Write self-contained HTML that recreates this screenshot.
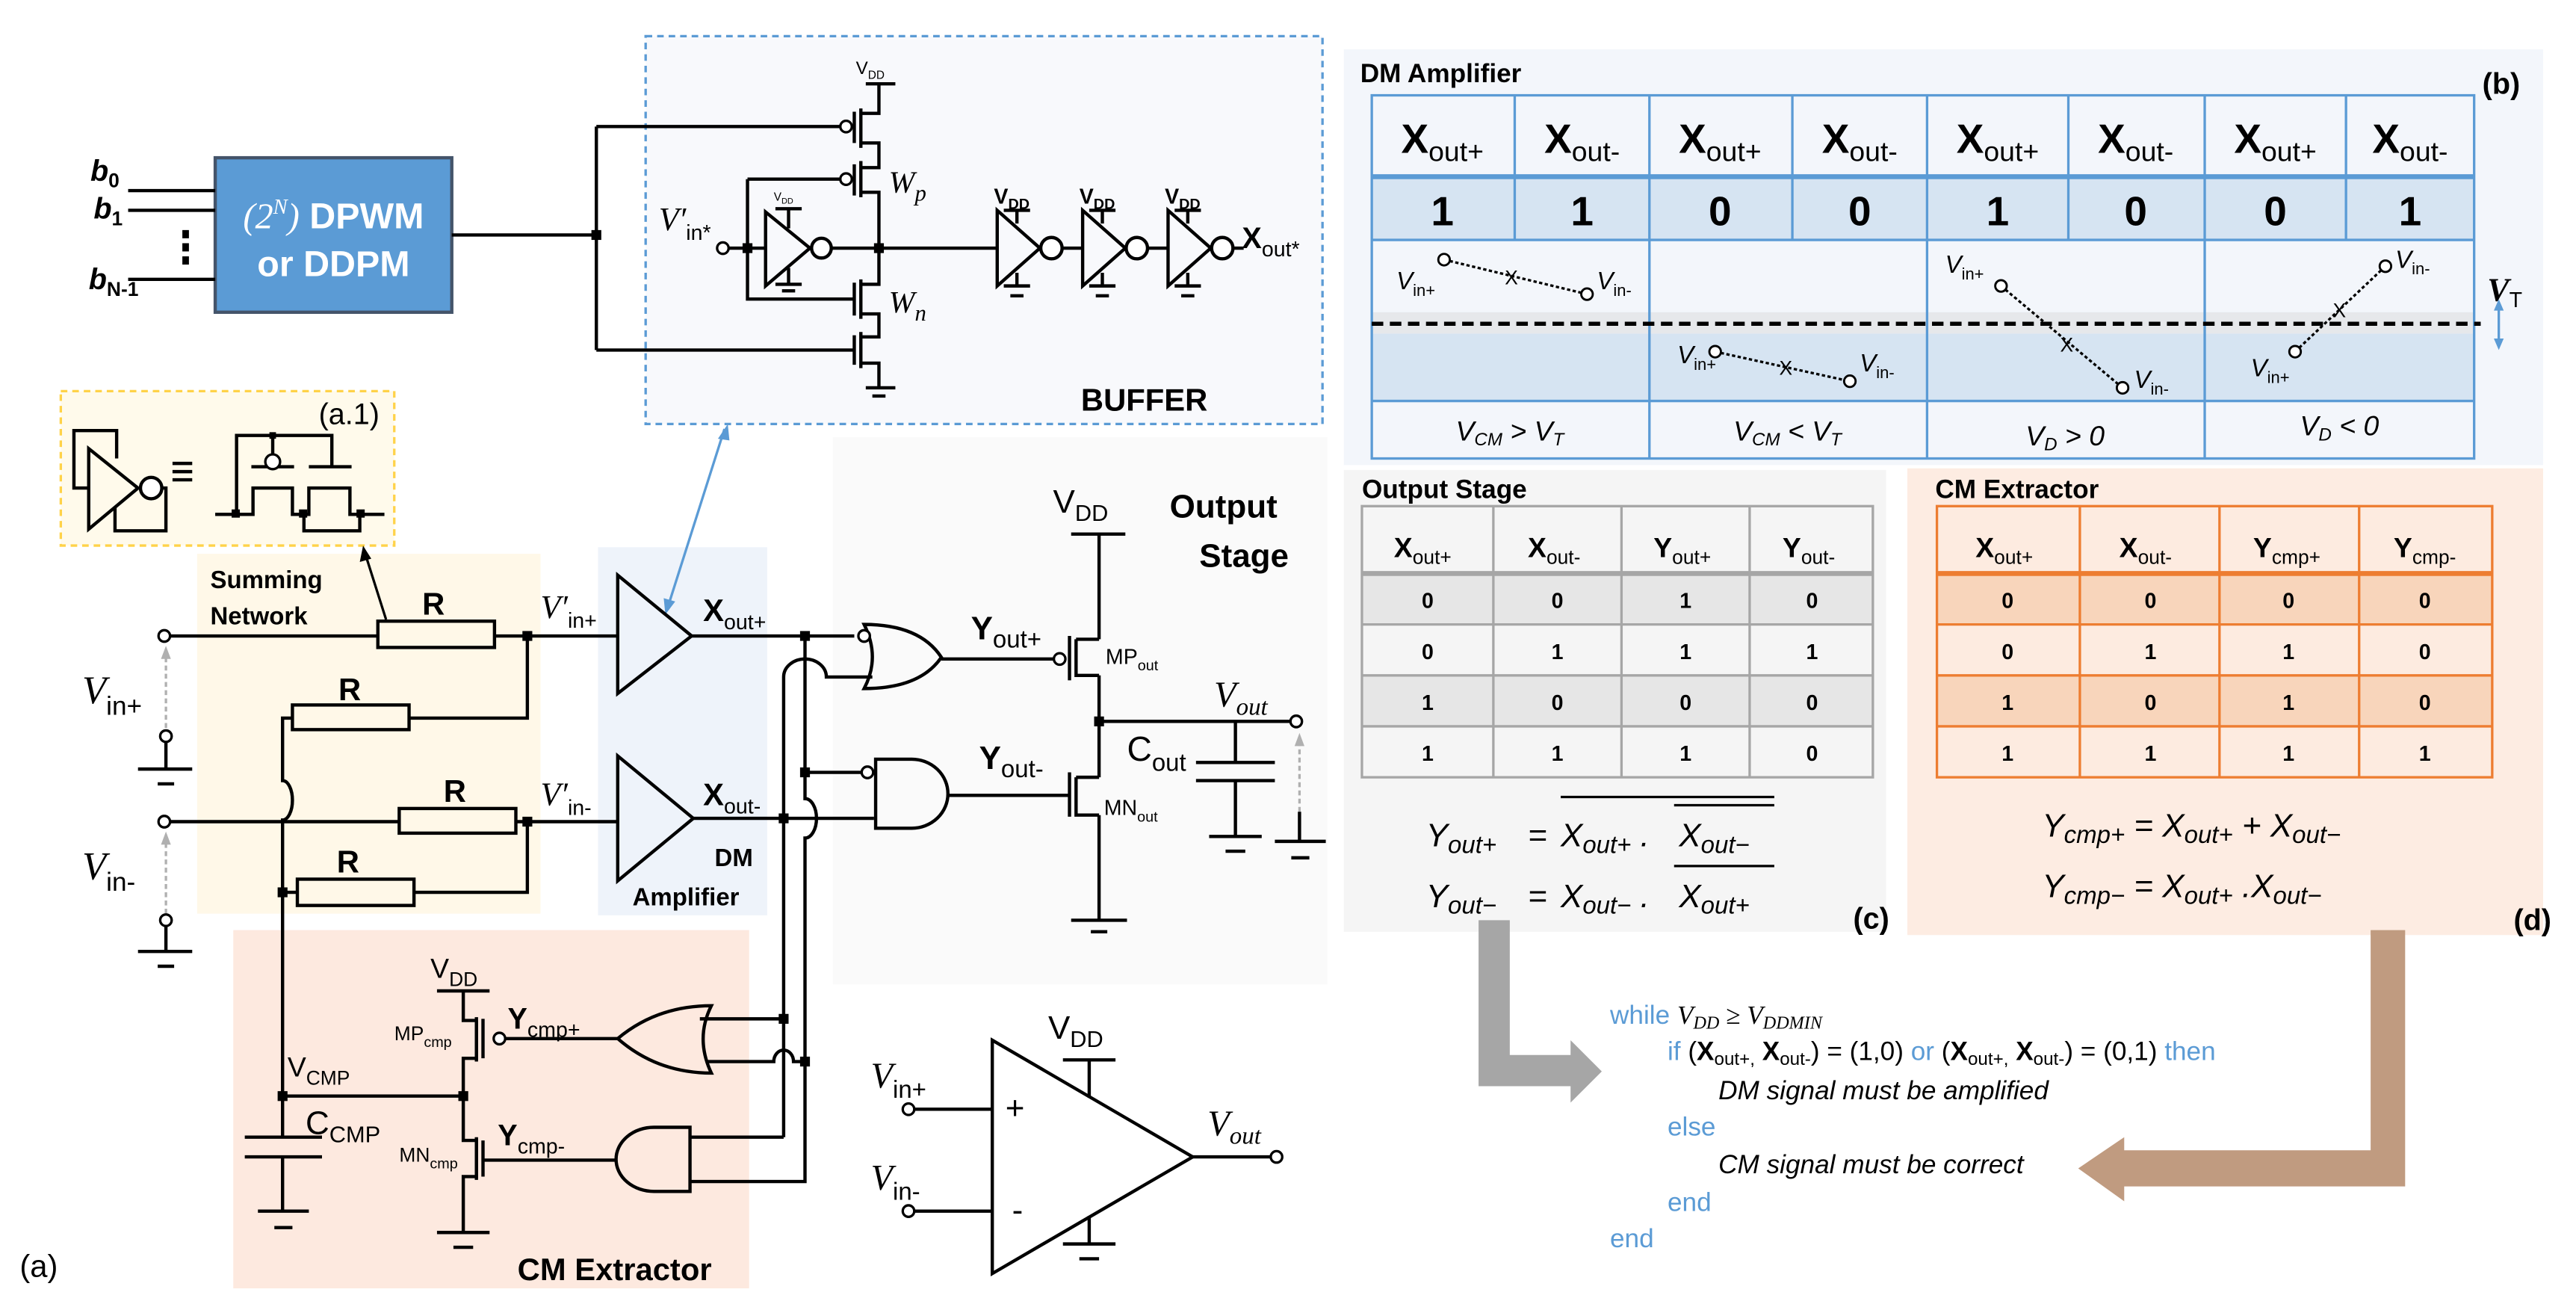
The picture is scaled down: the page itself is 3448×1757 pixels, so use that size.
<!DOCTYPE html>
<html><head><meta charset="utf-8"><style>
html,body{margin:0;padding:0;background:#fff}
svg{display:block}
text{font-family:"Liberation Sans",sans-serif}
.b{font-weight:bold}
.s{font-family:"Liberation Serif",serif;font-style:italic}
.w{fill:none;stroke:#000;stroke-width:2}
.t{fill:none;stroke:#000;stroke-width:3}
</style></head><body>
<svg width="3448" height="1757" viewBox="0 0 1568 799" xmlns="http://www.w3.org/2000/svg">
<!-- backgrounds -->
<rect x="393" y="22" width="412" height="236" fill="#f8f9fc" stroke="#5b9bd5" stroke-width="1.5" stroke-dasharray="4,3"/>
<rect x="37" y="238" width="203" height="94" fill="#fffaeb" stroke="#ffc000" stroke-opacity="0.7" stroke-width="1.5" stroke-dasharray="4,3"/>
<rect x="120" y="337" width="209" height="219" fill="#fff8e8"/>
<rect x="364" y="333" width="103" height="224" fill="#eef3fa"/>
<rect x="507" y="266" width="301" height="333" fill="#fafafa"/>
<rect x="142" y="566" width="314" height="218" fill="#fde9df"/>
<rect x="818" y="30" width="730" height="253" fill="#f3f6fb"/>
<rect x="818" y="286" width="330" height="281" fill="#f5f5f5"/>
<rect x="1161" y="285" width="387" height="284" fill="#fdece2"/>

<!-- DPWM -->
<rect x="131" y="96" width="144" height="94" fill="#5b9bd5" stroke="#44546a" stroke-width="2"/>
<text x="203" y="139" text-anchor="middle" fill="#fff" font-size="22" class="b"><tspan class="s" style="font-weight:normal">(2</tspan><tspan class="s" dy="-9" font-size="13" style="font-weight:normal">N</tspan><tspan class="s" dy="9" style="font-weight:normal">)</tspan> DPWM</text>
<text x="203" y="168" text-anchor="middle" fill="#fff" font-size="22" class="b">or DDPM</text>
<text x="55" y="110" font-size="18" class="b" font-style="italic">b<tspan dy="4" font-size="12" font-style="normal">0</tspan></text>
<text x="57" y="133" font-size="18" class="b" font-style="italic">b<tspan dy="4" font-size="12" font-style="normal">1</tspan></text>
<text x="54" y="176" font-size="18" class="b" font-style="italic">b<tspan dy="4" font-size="12" font-style="normal">N-1</tspan></text>
<path class="w" d="M78 116H131M78 128H131M78 170H131"/>
<rect x="111" y="140" width="4" height="5"/><rect x="111" y="148" width="4" height="5"/><rect x="111" y="156" width="4" height="5"/>
<path class="w" d="M275 143H363M363 77V213M363 77H511M363 213H520"/>
<rect x="360" y="140" width="6" height="6"/>

<!-- Buffer transistor stack -->
<text x="521" y="45" font-size="11">V<tspan dy="3" font-size="7">DD</tspan></text>
<path class="w" d="M527 51H545M535 51V69H524M524 87H535V102H524M524 117H535V173H524M524 191H535V205H524M524 221H535V236"/>
<path class="w" d="M524 66V90M524 98V120M524 170V194M524 202V224M520 68V87M520 100V119M520 172V192M520 204V222"/>
<path class="w" d="M527 236H545M531 241H539"/>
<circle cx="515" cy="77" r="3.5" fill="#fff" stroke="#000" stroke-width="1.5"/>
<circle cx="515" cy="109" r="3.5" fill="#fff" stroke="#000" stroke-width="1.5"/>
<rect x="532" y="148" width="6" height="6"/>
<text x="541" y="117" class="s" font-size="19">W<tspan dy="5" font-size="14">p</tspan></text>
<text x="541" y="190" class="s" font-size="19">W<tspan dy="5" font-size="14">n</tspan></text>
<!-- small inverter -->
<path class="w" d="M455 109H511M455 109V182H520M444 151H466M506 151H535"/>
<rect x="452" y="148" width="6" height="6"/>
<circle cx="440" cy="151" r="3.5" fill="#fff" stroke="#000" stroke-width="1.5"/>
<path class="w" d="M466 129L493 151L466 174Z"/>
<circle cx="500" cy="151" r="6" fill="#fff" stroke="#000" stroke-width="2"/>
<path class="w" d="M472 127H488M480 127V139M480 163V173M472 173H488M476 177H484"/>
<text x="471" y="122" font-size="7">V<tspan dy="2" font-size="5">DD</tspan></text>
<text x="401" y="140" class="s" font-size="20">V′<tspan dy="6" font-size="13" font-family="Liberation Sans" font-style="normal">in*</tspan></text>
<!-- three inverters -->
<path class="w" d="M535 151H607"/>
<g id="inv"><path class="w" d="M607 128L633 151L607 174Z"/><circle cx="640" cy="151" r="6.5" fill="#fff" stroke="#000" stroke-width="2"/><path class="w" d="M611 128H627M619 128V136M619 166V174M611 174H627M615 180H623"/></g>
<use href="#inv" x="52"/><use href="#inv" x="104"/>
<path class="w" d="M646 151H659M698 151H711M750 151H757"/>
<text x="605" y="124" class="b" font-size="13">V<tspan dy="3" font-size="9">DD</tspan></text>
<text x="657" y="124" class="b" font-size="13">V<tspan dy="3" font-size="9">DD</tspan></text>
<text x="709" y="124" class="b" font-size="13">V<tspan dy="3" font-size="9">DD</tspan></text>
<text x="756" y="151" class="b" font-size="18">X<tspan dy="5" font-size="13" style="font-weight:normal">out*</tspan></text>
<text x="658" y="250" class="b" font-size="19">BUFFER</text>

<!-- a.1 -->
<path class="w" d="M54 297H45V262H71V279"/>
<path class="w" d="M54 273L84 297L54 322Z"/>
<circle cx="92" cy="297" r="6.5" fill="#fff" stroke="#000" stroke-width="2"/>
<path class="w" d="M99 297H101V323H70V309"/>
<path class="w" d="M105 282H117M105 287H117M105 292H117" stroke-width="2"/>
<path class="w" d="M144 313V265H202V284M166 265V276M153 284H179M188 284H214M131 313H154V297H178V313H188V297H213V313H234M185 313V323H219V313"/>
<circle cx="166" cy="281" r="4.5" fill="#fff" stroke="#000" stroke-width="1.5"/>
<rect x="141" y="310" width="5" height="5"/><rect x="182" y="310" width="5" height="5"/><rect x="217" y="310" width="5" height="5"/><rect x="164" y="263" width="4" height="4"/>
<text x="194" y="258" font-size="18">(a.1)</text>
<path d="M235 377L222 336" stroke="#000" stroke-width="1.5"/><path d="M221 332L219 342L226 340Z"/>
<path d="M406 371L441 261" stroke="#5b9bd5" stroke-width="1.5"/><path d="M443 258L437 267L444 268Z" fill="#5b9bd5"/><path d="M405 374L404 364L411 366Z" fill="#5b9bd5"/>

<!-- Summing network -->
<text x="128" y="358" class="b" font-size="15">Summing</text>
<text x="128" y="380" class="b" font-size="15">Network</text>
<circle cx="100" cy="387" r="3.5" fill="#fff" stroke="#000" stroke-width="1.5"/>
<path class="w" d="M104 387H230M301 387H376"/>
<rect x="230" y="378" width="71" height="16" fill="none" stroke="#000" stroke-width="2"/>
<text x="257" y="374" class="b" font-size="19">R</text>
<rect x="318" y="384" width="6" height="6"/>
<text x="329" y="376" class="s" font-size="20">V′<tspan dy="6" font-size="13" font-family="Liberation Sans" font-style="normal">in+</tspan></text>
<path class="w" d="M321 387V437H249"/>
<rect x="178" y="429" width="71" height="15" fill="none" stroke="#000" stroke-width="2"/>
<text x="206" y="426" class="b" font-size="19">R</text>
<path class="w" d="M178 437H172V475A6 12 0 0 1 172 499V692"/>
<circle cx="100" cy="500" r="3.5" fill="#fff" stroke="#000" stroke-width="1.5"/>
<path class="w" d="M104 500H243M314 500H376"/>
<rect x="243" y="492" width="71" height="15" fill="none" stroke="#000" stroke-width="2"/>
<text x="270" y="488" class="b" font-size="19">R</text>
<rect x="318" y="497" width="6" height="6"/>
<text x="329" y="490" class="s" font-size="20">V′<tspan dy="6" font-size="13" font-family="Liberation Sans" font-style="normal">in-</tspan></text>
<path class="w" d="M321 500V543H252"/>
<rect x="181" y="535" width="71" height="16" fill="none" stroke="#000" stroke-width="2"/>
<text x="205" y="531" class="b" font-size="19">R</text>
<path class="w" d="M172 543H181"/><rect x="169" y="540" width="6" height="6"/>
<!-- inputs ground -->
<text x="50" y="428" class="s" font-size="24">V<tspan dy="7" font-size="16" font-family="Liberation Sans" font-style="normal">in+</tspan></text>
<text x="50" y="535" class="s" font-size="24">V<tspan dy="7" font-size="16" font-family="Liberation Sans" font-style="normal">in-</tspan></text>
<path d="M101 443V399M101 556V512" stroke="#b0b0b0" stroke-width="1.5" stroke-dasharray="3,2"/>
<path d="M101 393L98 401H104Z M101 506L98 514H104Z" fill="#b0b0b0"/>
<circle cx="101" cy="448" r="3.5" fill="#fff" stroke="#000" stroke-width="1.5"/>
<circle cx="101" cy="560" r="3.5" fill="#fff" stroke="#000" stroke-width="1.5"/>
<path class="w" d="M101 452V468M84 468H117M96 477H106M101 564V579M84 579H117M96 588H106"/>

<!-- DM amplifiers -->
<path class="w" d="M376 350L421 387L376 422Z"/>
<path class="w" d="M376 460L422 498L376 536Z"/>
<text x="428" y="378" class="b" font-size="19">X<tspan dy="5" font-size="13" style="font-weight:normal">out+</tspan></text>
<text x="428" y="490" class="b" font-size="19">X<tspan dy="5" font-size="13" style="font-weight:normal">out-</tspan></text>
<text x="435" y="527" class="b" font-size="15">DM</text>
<text x="385" y="551" class="b" font-size="15">Amplifier</text>
<!-- wiring -->
<path class="w" d="M421 387H520M422 498H532"/>
<rect x="487" y="384" width="6" height="6"/><rect x="474" y="495" width="6" height="6"/>
<path class="w" d="M490 387V486A7 12 0 0 1 490 510V719H420M490 470H524"/>
<rect x="487" y="467" width="6" height="6"/>
<path class="w" d="M477 692V412A13 11 0 0 1 503 412H531"/>
<path class="w" d="M477 620H426M420 692H477"/>
<rect x="474" y="617" width="6" height="6"/>
<path class="w" d="M430 646H471A6 7 0 0 1 483 646H490"/>
<rect x="487" y="643" width="6" height="6"/>

<!-- output stage gates -->
<path class="w" d="M526 380Q560 380 573 400Q560 419 526 419Q536 400 526 380Z"/>
<circle cx="526" cy="387" r="3.5" fill="#fff" stroke="#000" stroke-width="1.5"/>
<path class="w" d="M533 462H555A22 21 0 0 1 555 504H533Z"/>
<circle cx="528" cy="470" r="3.5" fill="#fff" stroke="#000" stroke-width="1.5"/>
<path class="w" d="M573 401H641M577 484H651"/>
<circle cx="645" cy="401" r="3.5" fill="#fff" stroke="#000" stroke-width="1.5"/>
<path class="w" d="M651 387V414M655 389V411H669M655 389H669M669 325V389M669 411V473M652 325H685"/>
<path class="w" d="M651 470V497M655 473V496H669M655 473H669M669 496V560M652 560H686M664 567H674"/>
<rect x="666" y="436" width="6" height="6"/>
<path class="w" d="M669 439H785M752 439V464M728 464H776M728 475H776M752 475V509M736 509H768M746 518H758"/>
<circle cx="789" cy="439" r="3.5" fill="#fff" stroke="#000" stroke-width="1.5"/>
<path d="M791 494V451" stroke="#b0b0b0" stroke-width="1.5" stroke-dasharray="3,2"/><path d="M791 446L788 454H794Z" fill="#b0b0b0"/>
<path class="w" d="M791 494V512M776 512H807M786 522H797"/>
<text x="641" y="312" font-size="20">V<tspan dy="5" font-size="14">DD</tspan></text>
<text x="712" y="315" class="b" font-size="20">Output</text>
<text x="730" y="345" class="b" font-size="20">Stage</text>
<text x="591" y="389" class="b" font-size="20">Y<tspan dy="5" font-size="15" style="font-weight:normal">out+</tspan></text>
<text x="596" y="468" class="b" font-size="20">Y<tspan dy="5" font-size="15" style="font-weight:normal">out-</tspan></text>
<text x="673" y="404" font-size="13">MP<tspan dy="4" font-size="9">out</tspan></text>
<text x="672" y="496" font-size="13">MN<tspan dy="4" font-size="9">out</tspan></text>
<text x="739" y="430" class="s" font-size="22">V<tspan dy="5" font-size="15">out</tspan></text>
<text x="686" y="463" font-size="21">C<tspan dy="6" font-size="15">out</tspan></text>

<!-- CM extractor -->
<rect x="169" y="664" width="6" height="6"/><rect x="279" y="664" width="6" height="6"/>
<path class="w" d="M172 667H282M149 692H196M149 704H196M172 704V737M157 737H188M167 747H178"/>
<path class="w" d="M282 603V621H290M290 621V644H282V694H290V716H282V750M266 603H298M266 750H298M276 759H288"/>
<path class="w" d="M290 619V646M290 692V718M294 620V644M294 694V716"/>
<circle cx="304" cy="632" r="3.5" fill="#fff" stroke="#000" stroke-width="1.5"/>
<path class="w" d="M308 632H376M294 706H375"/>
<path class="w" d="M433 612Q400 612 376 632Q400 653 433 653Q423 632 433 612Z"/>
<path class="w" d="M420 686H398A23 19.5 0 0 0 398 725H420Z"/>
<text x="262" y="595" font-size="17">V<tspan dy="5" font-size="12">DD</tspan></text>
<text x="309" y="626" class="b" font-size="18">Y<tspan dy="5" font-size="13" style="font-weight:normal">cmp+</tspan></text>
<text x="303" y="697" class="b" font-size="18">Y<tspan dy="5" font-size="13" style="font-weight:normal">cmp-</tspan></text>
<text x="240" y="633" font-size="12">MP<tspan dy="4" font-size="9">cmp</tspan></text>
<text x="243" y="707" font-size="12">MN<tspan dy="4" font-size="9">cmp</tspan></text>
<text x="175" y="655" font-size="17">V<tspan dy="5" font-size="12">CMP</tspan></text>
<text x="186" y="690" font-size="20">C<tspan dy="5" font-size="14">CMP</tspan></text>
<text x="315" y="779" class="b" font-size="19">CM Extractor</text>
<text x="12" y="777" font-size="19">(a)</text>

<!-- opamp -->
<path class="w" d="M604 633L726 704L604 775Z"/>
<circle cx="553" cy="675" r="3.5" fill="#fff" stroke="#000" stroke-width="1.5"/>
<circle cx="553" cy="737" r="3.5" fill="#fff" stroke="#000" stroke-width="1.5"/>
<circle cx="777" cy="704" r="3.5" fill="#fff" stroke="#000" stroke-width="1.5"/>
<path class="w" d="M557 675H604M557 737H604M726 704H773M663 645V668M647 645H679M663 740V757M647 757H679M657 766H669"/>
<text x="612" y="681" font-size="20">+</text><text x="616" y="743" font-size="20">-</text>
<text x="638" y="632" font-size="20">V<tspan dy="5" font-size="14">DD</tspan></text>
<text x="530" y="662" class="s" font-size="22">V<tspan dy="6" font-size="15" font-family="Liberation Sans" font-style="normal">in+</tspan></text>
<text x="530" y="724" class="s" font-size="22">V<tspan dy="6" font-size="15" font-family="Liberation Sans" font-style="normal">in-</tspan></text>
<text x="735" y="691" class="s" font-size="22">V<tspan dy="5" font-size="15">out</tspan></text>

<!-- (b) DM table -->
<text x="828" y="50" class="b" font-size="16">DM Amplifier</text>
<text x="1511" y="57" class="b" font-size="18">(b)</text>
<rect x="835" y="107" width="671" height="39" fill="#d6e4f2"/>
<rect x="835" y="203" width="671" height="41" fill="#d6e4f2"/>
<rect x="835" y="190" width="671" height="13" fill="#e6e8eb"/>
<g fill="none" stroke="#5b9bd5" stroke-width="1.5">
<rect x="835" y="58" width="671" height="221"/>
<path d="M835 146H1506M835 244H1506M922 58V146M1091 58V146M1259 58V146M1428 58V146M1004 58V279M1173 58V279M1342 58V279"/>
<path d="M835 107.5H1506" stroke-width="3"/>
</g>
<g class="b" font-size="25" text-anchor="middle">
<text x="878" y="93">X<tspan dy="5" font-size="17" style="font-weight:normal">out+</tspan></text>
<text x="963" y="93">X<tspan dy="5" font-size="17" style="font-weight:normal">out-</tspan></text>
<text x="1047" y="93">X<tspan dy="5" font-size="17" style="font-weight:normal">out+</tspan></text>
<text x="1132" y="93">X<tspan dy="5" font-size="17" style="font-weight:normal">out-</tspan></text>
<text x="1216" y="93">X<tspan dy="5" font-size="17" style="font-weight:normal">out+</tspan></text>
<text x="1300" y="93">X<tspan dy="5" font-size="17" style="font-weight:normal">out-</tspan></text>
<text x="1385" y="93">X<tspan dy="5" font-size="17" style="font-weight:normal">out+</tspan></text>
<text x="1467" y="93">X<tspan dy="5" font-size="17" style="font-weight:normal">out-</tspan></text>
<text x="878" y="137">1</text><text x="963" y="137">1</text><text x="1047" y="137">0</text><text x="1132" y="137">0</text>
<text x="1216" y="137">1</text><text x="1300" y="137">0</text><text x="1385" y="137">0</text><text x="1467" y="137">1</text>
</g>
<path d="M835 197H1510" stroke="#000" stroke-width="2.5" stroke-dasharray="7,4"/>
<path d="M1521 186V209" stroke="#5b9bd5" stroke-width="1.5"/><path d="M1521 182L1518 189H1524ZM1521 213L1518 206H1524Z" fill="#5b9bd5"/>
<text x="1514" y="183" class="s b" font-size="20">V<tspan dy="4" font-size="13" font-family="Liberation Sans" font-style="normal" style="font-weight:normal">T</tspan></text>
<g stroke="#000" stroke-width="1.5" stroke-dasharray="2,1.5" fill="none">
<path d="M879 158L966 179M1044 214L1126 232M1218 174L1292 236M1397 214L1452 162"/></g>
<g fill="#fff" stroke="#000" stroke-width="1.3">
<circle cx="879" cy="158" r="3.5"/><circle cx="966" cy="179" r="3.5"/><circle cx="1044" cy="214" r="3.5"/><circle cx="1126" cy="232" r="3.5"/>
<circle cx="1218" cy="174" r="3.5"/><circle cx="1292" cy="236" r="3.5"/><circle cx="1397" cy="214" r="3.5"/><circle cx="1452" cy="162" r="3.5"/></g>
<g font-size="12" text-anchor="middle"><text x="920" y="173">X</text><text x="1087" y="228">X</text><text x="1258" y="214">X</text><text x="1424" y="193">X</text></g>
<g class="s" font-size="15">
<text x="850" y="176">V<tspan dy="4" font-size="10" font-family="Liberation Sans" font-style="normal">in+</tspan></text>
<text x="972" y="176">V<tspan dy="4" font-size="10" font-family="Liberation Sans" font-style="normal">in-</tspan></text>
<text x="1021" y="221">V<tspan dy="4" font-size="10" font-family="Liberation Sans" font-style="normal">in+</tspan></text>
<text x="1132" y="226">V<tspan dy="4" font-size="10" font-family="Liberation Sans" font-style="normal">in-</tspan></text>
<text x="1184" y="166">V<tspan dy="4" font-size="10" font-family="Liberation Sans" font-style="normal">in+</tspan></text>
<text x="1299" y="236">V<tspan dy="4" font-size="10" font-family="Liberation Sans" font-style="normal">in-</tspan></text>
<text x="1370" y="229">V<tspan dy="4" font-size="10" font-family="Liberation Sans" font-style="normal">in+</tspan></text>
<text x="1458" y="163">V<tspan dy="4" font-size="10" font-family="Liberation Sans" font-style="normal">in-</tspan></text>
</g>
<g class="s" font-size="17" text-anchor="middle">
<text x="919" y="268">V<tspan dy="3" font-size="11">CM</tspan><tspan dy="-3"> &gt; V</tspan><tspan dy="3" font-size="11">T</tspan></text>
<text x="1088" y="268">V<tspan dy="3" font-size="11">CM</tspan><tspan dy="-3"> &lt; V</tspan><tspan dy="3" font-size="11">T</tspan></text>
<text x="1257" y="271">V<tspan dy="3" font-size="11">D</tspan><tspan dy="-3"> &gt; 0</tspan></text>
<text x="1424" y="265">V<tspan dy="3" font-size="11">D</tspan><tspan dy="-3"> &lt; 0</tspan></text>
</g>

<!-- (c) output stage table -->
<text x="829" y="303" class="b" font-size="16">Output Stage</text>
<rect x="829" y="349" width="311" height="31" fill="#e6e6e6"/>
<rect x="829" y="411" width="311" height="31" fill="#e6e6e6"/>
<g fill="none" stroke="#a6a6a6" stroke-width="1.5">
<rect x="829" y="308" width="311" height="165"/>
<path d="M829 380H1140M829 411H1140M829 442H1140M909 308V473M987 308V473M1065 308V473"/>
<path d="M829 349H1140" stroke-width="3"/></g>
<g class="b" font-size="17" text-anchor="middle">
<text x="866" y="339">X<tspan dy="4" font-size="12" style="font-weight:normal">out+</tspan></text>
<text x="946" y="339">X<tspan dy="4" font-size="12" style="font-weight:normal">out-</tspan></text>
<text x="1024" y="339">Y<tspan dy="4" font-size="12" style="font-weight:normal">out+</tspan></text>
<text x="1101" y="339">Y<tspan dy="4" font-size="12" style="font-weight:normal">out-</tspan></text>
</g>
<g class="b" font-size="13" text-anchor="middle">
<text x="869" y="370">0</text><text x="948" y="370">0</text><text x="1026" y="370">1</text><text x="1103" y="370">0</text>
<text x="869" y="401">0</text><text x="948" y="401">1</text><text x="1026" y="401">1</text><text x="1103" y="401">1</text>
<text x="869" y="432">1</text><text x="948" y="432">0</text><text x="1026" y="432">0</text><text x="1103" y="432">0</text>
<text x="869" y="463">1</text><text x="948" y="463">1</text><text x="1026" y="463">1</text><text x="1103" y="463">0</text>
</g>
<g class="s" font-size="20">
<text x="868" y="515">Y<tspan dy="4" font-size="15">out+</tspan></text>
<text x="930" y="515">=</text>
<text x="950" y="515">X<tspan dy="4" font-size="15">out+</tspan><tspan dy="-4"> .</tspan></text>
<text x="1022" y="515">X<tspan dy="4" font-size="15">out−</tspan></text>
<text x="868" y="552">Y<tspan dy="4" font-size="15">out−</tspan></text>
<text x="930" y="552">=</text>
<text x="950" y="552">X<tspan dy="4" font-size="15">out−</tspan><tspan dy="-4"> .</tspan></text>
<text x="1022" y="552">X<tspan dy="4" font-size="15">out+</tspan></text>
</g>
<path d="M950 485H1080M1019 490H1080M1019 527H1080" stroke="#000" stroke-width="1.5"/>
<text x="1128" y="565" class="b" font-size="18">(c)</text>

<!-- (d) CM table -->
<text x="1178" y="303" class="b" font-size="16">CM Extractor</text>
<rect x="1179" y="308" width="338" height="165" fill="#fdebe0"/>
<rect x="1179" y="349" width="338" height="31" fill="#f8d5bb"/>
<rect x="1179" y="411" width="338" height="31" fill="#f8d5bb"/>
<g fill="none" stroke="#ed7d31" stroke-width="1.5">
<rect x="1179" y="308" width="338" height="165"/>
<path d="M1179 380H1517M1179 411H1517M1179 442H1517M1266 308V473M1351 308V473M1436 308V473"/>
<path d="M1179 349H1517" stroke-width="3"/></g>
<g class="b" font-size="17" text-anchor="middle">
<text x="1220" y="339">X<tspan dy="4" font-size="12" style="font-weight:normal">out+</tspan></text>
<text x="1306" y="339">X<tspan dy="4" font-size="12" style="font-weight:normal">out-</tspan></text>
<text x="1392" y="339">Y<tspan dy="4" font-size="12" style="font-weight:normal">cmp+</tspan></text>
<text x="1476" y="339">Y<tspan dy="4" font-size="12" style="font-weight:normal">cmp-</tspan></text>
</g>
<g class="b" font-size="13" text-anchor="middle">
<text x="1222" y="370">0</text><text x="1309" y="370">0</text><text x="1393" y="370">0</text><text x="1476" y="370">0</text>
<text x="1222" y="401">0</text><text x="1309" y="401">1</text><text x="1393" y="401">1</text><text x="1476" y="401">0</text>
<text x="1222" y="432">1</text><text x="1309" y="432">0</text><text x="1393" y="432">1</text><text x="1476" y="432">0</text>
<text x="1222" y="463">1</text><text x="1309" y="463">1</text><text x="1393" y="463">1</text><text x="1476" y="463">1</text>
</g>
<g class="s" font-size="20">
<text x="1243" y="509">Y<tspan dy="4" font-size="15">cmp+</tspan><tspan dy="-4"> = X</tspan><tspan dy="4" font-size="15">out+</tspan><tspan dy="-4"> + X</tspan><tspan dy="4" font-size="15">out−</tspan></text>
<text x="1243" y="546">Y<tspan dy="4" font-size="15">cmp−</tspan><tspan dy="-4"> = X</tspan><tspan dy="4" font-size="15">out+</tspan><tspan dy="-4"> .X</tspan><tspan dy="4" font-size="15">out−</tspan></text>
</g>
<text x="1530" y="566" class="b" font-size="18">(d)</text>

<!-- arrows -->
<path d="M900 560H919V642H956V633L975 652L956 671V661H900Z" fill="#a6a6a6"/>
<path d="M1443 566H1464V722H1293V731L1265 711L1293 692V700H1443Z" fill="#c09b80"/>

<!-- pseudo code -->
<g font-size="16">
<text x="980" y="623"><tspan fill="#5b9bd5">while</tspan> <tspan class="s">V<tspan dy="3" font-size="11">DD</tspan><tspan dy="-3"> ≥ V</tspan><tspan dy="3" font-size="11">DDMIN</tspan></tspan></text>
<text x="1015" y="645"><tspan fill="#5b9bd5">if</tspan>  (<tspan class="b">X</tspan><tspan dy="3" font-size="11">out+,</tspan><tspan dy="-3" class="b"> X</tspan><tspan dy="3" font-size="11">out-</tspan><tspan dy="-3">) = (1,0) </tspan><tspan fill="#5b9bd5">or</tspan> (<tspan class="b">X</tspan><tspan dy="3" font-size="11">out+,</tspan><tspan dy="-3" class="b"> X</tspan><tspan dy="3" font-size="11">out-</tspan><tspan dy="-3">) = (0,1)  </tspan><tspan fill="#5b9bd5">then</tspan></text>
<text x="1046" y="669" font-style="italic">DM signal must be amplified</text>
<text x="1015" y="691" fill="#5b9bd5">else</text>
<text x="1046" y="714" font-style="italic">CM signal must be correct</text>
<text x="1015" y="737" fill="#5b9bd5">end</text>
<text x="980" y="759" fill="#5b9bd5">end</text>
</g>
</svg>
</body></html>
